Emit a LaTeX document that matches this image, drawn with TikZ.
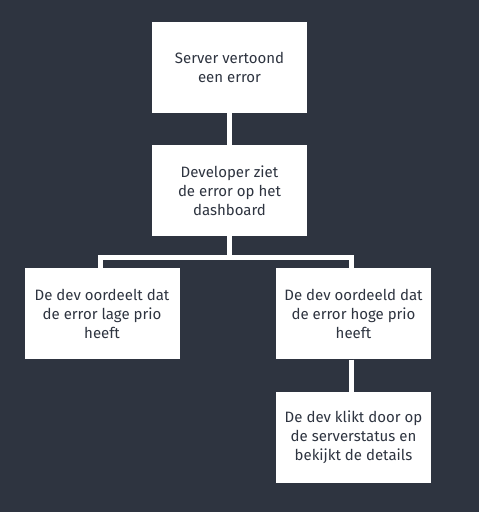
\documentclass[tikz,border=0pt]{standalone}
\usepackage{fontspec}
\setmainfont{Fira Sans}
\usepackage{xcolor}
\usepackage{tikz}
\usetikzlibrary{positioning,calc}

\definecolor{nightbg}{HTML}{2E3440}

\begin{document}
\begin{tikzpicture}[x=1pt, y=1pt,
    stepbox/.style={rectangle, fill=white, minimum width=155pt, minimum height=91pt, inner sep=0pt,
        align=center, text=nightbg, font=\fontsize{15}{19}\selectfont},
    conn/.style={draw=white, line width=5pt}]
    % background
    \fill[nightbg] (0,0) rectangle (479,512);
    \useasboundingbox (0,0) rectangle (479,512);

    % boxes
    \node[stepbox] (error) at (229.5, 444.5) {Server vertoond\\een error};
    \node[stepbox] (dash) at (229.5, 321.5) {Developer ziet\\de error op het\\dashboard};
    \node[stepbox] (low) at (102, 198) {De dev oordeelt dat\\de error lage prio\\heeft};
    \node[stepbox] (high) at (353.5, 198) {De dev oordeeld dat\\de error hoge prio\\heeft};
    \node[stepbox] (detail) at (353.5, 74.5) {De dev klikt door op\\de serverstatus en\\bekijkt de details};

    % connectors
    \draw[conn] (error) -- (dash);
    \draw[conn] (dash.south) -- ++(0,-21.5) -| ([xshift=-2pt]low.north);
    \draw[conn] (dash.south) -- ++(0,-21.5) -| ([xshift=-2pt]high.north);
    \draw[conn] ([xshift=-2pt]high.south) -- ([xshift=-2pt]detail.north);
\end{tikzpicture}
\end{document}
